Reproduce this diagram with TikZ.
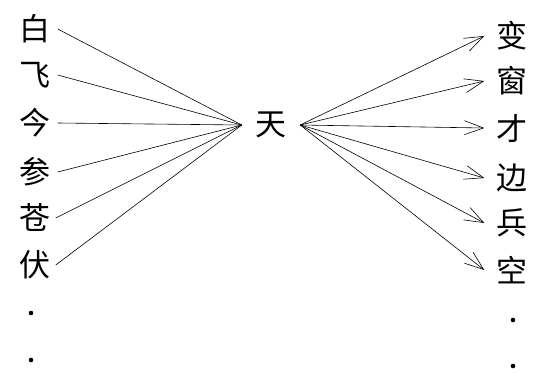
\documentclass[tikz,border=0pt]{standalone}
\usepackage{fontspec}
\newfontfamily\cjk{Noto Sans CJK SC}
\usetikzlibrary{arrows.meta,positioning}

\tikzset{
	zi/.style={font=\cjk\fontsize{31}{31}\selectfont, inner sep=0pt, minimum size=30pt},
	xian/.style={line width=0.6pt},
	jian/.style={line width=0.6pt, -{Straight Barb[length=19pt,width=14pt,line width=0.6pt]}}
}

\begin{document}
\begin{tikzpicture}[x=1pt,y=-1pt]
		
		\useasboundingbox (0,0) rectangle (539,373);
		
		% left column
		\node[zi] (bai) at (35,29) {白};
		\node[zi] (fei) at (35,75) {飞};
		\node[zi] (jin) at (35,123) {今};
		\node[zi] (can) at (35,172) {参};
		\node[zi] (cang) at (35,218) {苍};
		\node[zi] (fu) at (35,265) {伏};
		
		\fill (31,313) circle (2.3pt);
		\fill (31,360) circle (2.3pt);
		
		% center
		\node[zi, minimum width=58pt] (tian) at (271,125) {天};
		
		% right column
		\node[zi] (bian) at (512,36) {变};
		\node[zi] (chuang) at (512,81) {窗};
		\node[zi] (cai) at (512,128) {才};
		\node[zi] (bianj) at (512,178) {边};
		\node[zi] (bing) at (512,223) {兵};
		\node[zi] (kong) at (512,270) {空};
		
		\fill (513,320) circle (2.3pt);
		\fill (513,366) circle (2.3pt);
		
		\draw[xian] ([xshift=7pt]bai.east) -- (tian.west);
		\draw[xian] ([xshift=7pt]fei.east) -- (tian.west);
		\draw[xian] ([xshift=7pt]jin.east) -- (tian.west);
		\draw[xian] ([xshift=7pt]can.east) -- (tian.west);
		\draw[xian] ([xshift=5pt]cang.east) -- (tian.west);
		\draw[xian] ([xshift=5pt]fu.east) -- (tian.west);
		
		\draw[jian] (tian.east) -- ([xshift=-12pt]bian.west);
		\draw[jian] (tian.east) -- ([xshift=-12pt]chuang.west);
		\draw[jian] (tian.east) -- ([xshift=-12pt]cai.west);
		\draw[jian] (tian.east) -- ([xshift=-12pt]bianj.west);
		\draw[jian] (tian.east) -- ([xshift=-12pt]bing.west);
		\draw[jian] (tian.east) -- ([xshift=-12pt]kong.west);
		
	\end{tikzpicture}
\end{document}
